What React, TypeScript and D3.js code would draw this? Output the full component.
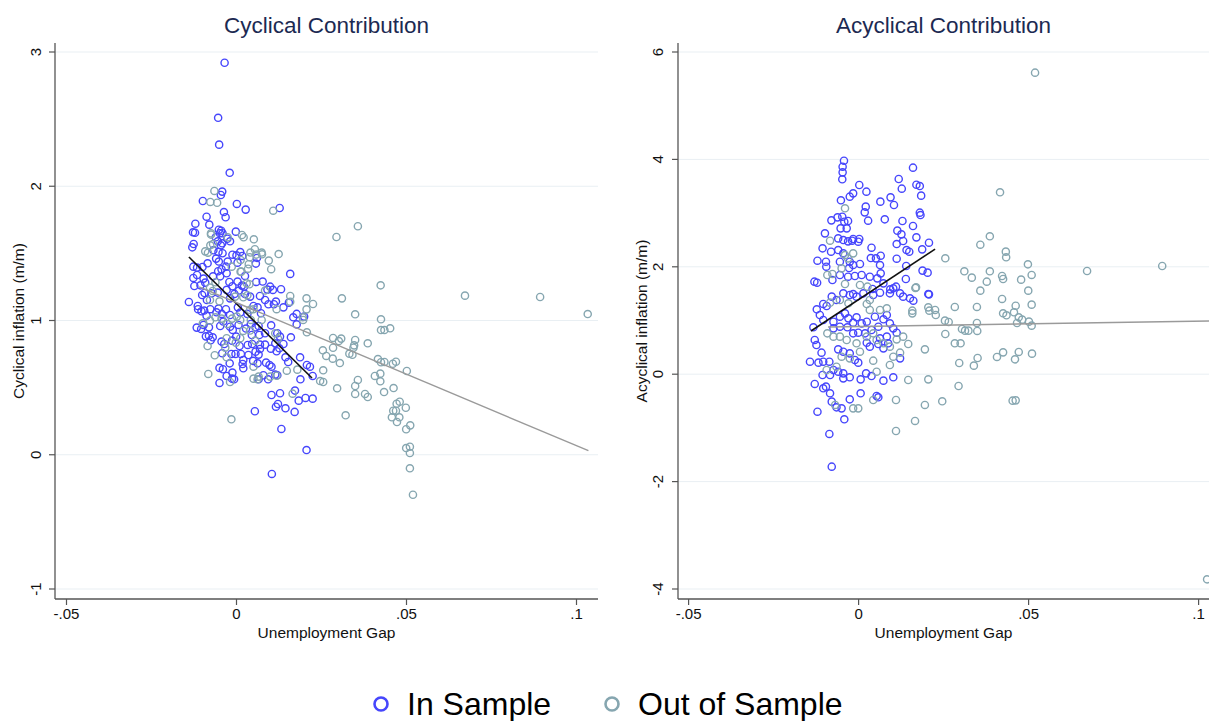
import React from "react";
import * as d3 from "d3";

type Pt = [number, number];

// Cyclical contribution – in-sample observations [unemployment gap, cyclical inflation]
const cycIn: Pt[] = [
[-0.0035,2.92],[-0.0054,2.51],[-0.0051,2.31],[-0.0020,2.10],[-0.0042,1.96],[-0.0046,1.935],[-0.0099,1.89],[0.0001,1.868],[0.0027,1.826],[0.0127,1.838],[-0.0037,1.808],[-0.0032,1.769],[-0.0088,1.773],[-0.0121,1.721],[-0.0080,1.714],[-0.0128,1.657],[-0.0122,1.654],[-0.0052,1.676],[-0.0045,1.669],[-0.0049,1.650],[-0.0041,1.650],[-0.0002,1.662],
[-0.0061,1.620],[-0.0055,1.590],[-0.0042,1.575],[-0.0046,1.560],[-0.0019,1.590],[-0.0027,1.609],[-0.0126,1.570],[-0.0130,1.545],[-0.0068,1.523],[-0.0053,1.511],[-0.0041,1.501],[-0.0012,1.490],[0.0000,1.485],[0.0011,1.510],[0.0017,1.481],
[-0.0127,1.401],[-0.0116,1.394],[-0.0100,1.399],[-0.0085,1.426],[-0.0060,1.461],[-0.0052,1.439],[-0.0026,1.439],[-0.0031,1.401],[-0.0044,1.382],[0.0003,1.431],[0.0057,1.424],[0.0060,1.466],[0.0158,1.347],
[-0.0127,1.317],[-0.0116,1.339],[-0.0097,1.312],[-0.0092,1.282],[-0.0124,1.257],[-0.0106,1.262],[-0.0069,1.329],[-0.0054,1.367],[-0.0048,1.329],[-0.0029,1.352],[-0.0021,1.287],[-0.0012,1.255],[0.0003,1.290],[0.0016,1.260],[0.0025,1.332],[0.0022,1.252],[0.0058,1.287],[0.0077,1.290],[0.0099,1.252],[0.0107,1.228],[0.0091,1.230],
[-0.0140,1.138],[-0.0114,1.108],[-0.0101,1.190],[-0.0094,1.205],[-0.0087,1.153],[-0.0073,1.203],[-0.0055,1.208],[-0.0029,1.228],[-0.0019,1.165],[-0.0006,1.198],[0.0007,1.223],[0.0025,1.198],[0.0040,1.178],[0.0069,1.183],[0.0084,1.153],[0.0116,1.141],[0.0138,1.098],[0.0154,1.133],[0.0131,1.233],
[-0.0113,1.084],[-0.0103,1.069],[-0.0095,1.074],[-0.0088,1.036],[-0.0077,1.084],[-0.0059,1.061],[-0.0053,1.089],[-0.0043,1.049],[-0.0031,1.084],[-0.0019,1.041],[0.0004,1.098],[0.0011,1.059],[0.0032,1.049],[0.0050,1.108],[0.0062,1.098],[0.0072,1.054],[0.0094,1.121],[0.0110,1.121],[0.0167,1.024],[0.0199,1.029],[0.0177,1.049],
[-0.0117,0.947],[-0.0104,0.937],[-0.0097,0.967],[-0.0081,0.949],[-0.0048,0.959],[-0.0039,0.992],[-0.0019,0.954],[-0.0011,0.930],[0.0006,0.967],[0.0028,0.940],[0.0042,0.974],[0.0056,0.949],[0.0065,0.959],[0.0084,0.905],[0.0102,0.964],[0.0120,0.905],[0.0128,0.880],[0.0160,0.875],[0.0067,0.892],[0.0045,0.892],
[-0.0090,0.882],[-0.0081,0.887],[-0.0076,0.853],[-0.0070,0.875],[-0.0044,0.843],[-0.0036,0.825],[-0.0013,0.850],[-0.0001,0.880],[0.0009,0.810],[0.0033,0.818],[0.0046,0.825],[0.0069,0.820],[0.0084,0.820],[0.0056,0.768],[0.0069,0.788],[0.0114,0.830],[0.0101,0.790],[0.0126,0.793],[0.0138,0.825],[0.0118,0.771],
[-0.0042,0.756],[-0.0015,0.751],[-0.0003,0.751],[0.0013,0.751],[0.0020,0.706],[0.0018,0.676],[0.0035,0.743],[0.0065,0.746],[0.0049,0.699],[0.0062,0.681],[0.0087,0.686],[0.0097,0.669],[0.0103,0.656],[0.0144,0.726],[0.0152,0.691],[0.0187,0.726],[0.0207,0.669],[0.0216,0.656],[-0.0050,0.647],[-0.0040,0.637],[-0.0020,0.681],[0.0020,0.644],
[-0.0029,0.587],[-0.0012,0.612],[-0.0007,0.562],[-0.0050,0.535],[-0.0013,0.567],[0.0079,0.592],[0.0093,0.562],[0.0114,0.597],[0.0120,0.592],[0.0065,0.562],[0.0188,0.562],[0.0224,0.587],
[0.0103,0.445],[0.0128,0.458],[0.0172,0.478],[0.0183,0.403],[0.0203,0.423],[0.0224,0.418],[0.0144,0.346],[0.0116,0.358],[0.0122,0.378],[0.0171,0.319],[0.0054,0.324],
[0.0177,0.971],[0.0206,0.035],[0.0132,0.192],[0.0104,-0.143]
];

// Cyclical contribution – out-of-sample observations
const cycOut: Pt[] = [
[-0.0065,1.965],[-0.0077,1.883],[-0.0057,1.877],[0.0108,1.818],[-0.0075,1.650],[0.0016,1.637],[0.0021,1.620],[0.0051,1.605],[-0.0026,1.620],
[-0.0075,1.640],[-0.0069,1.570],[-0.0077,1.560],[-0.0092,1.515],[-0.0084,1.505],[0.0039,1.471],[0.0041,1.506],[0.0058,1.491],[0.0074,1.506],[0.0054,1.531],
[-0.0014,1.401],[0.0012,1.451],[0.0012,1.364],[0.0036,1.419],[0.0034,1.386],[0.0075,1.493],[0.0095,1.446],[0.0102,1.382],
[-0.0078,1.245],[-0.0062,1.285],[0.0014,1.364],[0.0038,1.270],[0.0030,1.277],
[-0.0078,1.153],[-0.0070,1.220],[-0.0050,1.143],[-0.0004,1.178],[0.0020,1.173],[0.0032,1.188],[0.0050,1.084],[0.0084,1.223],[0.0118,1.084],
[-0.0062,1.024],[-0.0044,1.014],[-0.0013,1.014],[0.0001,1.029],[0.0042,1.004],[0.0074,1.004],[0.0040,1.079],
[-0.0099,0.979],[-0.0078,0.999],[-0.0027,0.974],[0.0011,1.004],[0.0020,0.922],[0.0040,0.925],[0.0114,0.905],
[-0.0029,0.868],[-0.0033,0.798],[-0.0085,0.810],[-0.0002,0.835],[0.0055,0.850],[0.0122,0.865],[0.0011,0.868],
[-0.0064,0.741],[-0.0029,0.726],[0.0050,0.656],
[-0.0083,0.602],[-0.0019,0.542],[0.0050,0.567],[0.0062,0.562],[0.0065,0.582],[0.0099,0.582],
[-0.0015,0.264],
[0.0357,1.702],[0.0294,1.622],[0.0124,1.495],[0.0424,1.262],[0.0672,1.185],[0.0893,1.175],[0.1033,1.048],[0.0310,1.165],[0.0206,1.165],[0.0225,1.123],[0.0158,1.183],[0.0158,1.140],[0.0206,1.083],[0.0349,1.046],[0.0425,1.009],[0.0425,0.929],[0.0435,0.929],[0.0452,0.942],[0.0196,1.004],[0.0195,1.024],[0.0207,0.912],
[0.0284,0.870],[0.0308,0.865],[0.0301,0.847],[0.0349,0.855],[0.0346,0.815],[0.0344,0.797],[0.0386,0.830],[0.0284,0.797],[0.0254,0.778],[0.0264,0.736],[0.0283,0.716],[0.0304,0.683],[0.0332,0.753],[0.0341,0.745],
[0.0416,0.713],[0.0425,0.689],[0.0435,0.691],[0.0460,0.678],[0.0469,0.693],[0.0501,0.624],[0.0255,0.629],[0.0246,0.549],[0.0255,0.542],[0.0407,0.587],[0.0423,0.604],[0.0423,0.547],[0.0357,0.557],[0.0349,0.512],[0.0349,0.453],[0.0296,0.495],[0.0434,0.467],[0.0462,0.497],[0.0378,0.453],[0.0386,0.430],[0.0321,0.294],
[0.0480,0.395],[0.0471,0.380],[0.0498,0.350],[0.0461,0.328],[0.0469,0.328],[0.0457,0.279],[0.0479,0.279],[0.0472,0.244],[0.0511,0.219],[0.0499,0.190],[0.0499,0.050],[0.0510,0.060],[0.0510,0.013],[0.0510,-0.101],[0.0519,-0.298],[0.0165,0.455],[0.0179,0.634],[0.0148,0.626],[0.0118,0.589]
];

// Acyclical contribution – in-sample observations
const acycIn: Pt[] = [
[-0.0043,3.976],[-0.0047,3.864],[-0.0047,3.759],[-0.0048,3.629],[0.0160,3.846],
[0.0118,3.635],[0.0127,3.455],[0.0170,3.529],[0.0180,3.504],[0.0184,3.325],
[0.0002,3.523],[0.0023,3.399],[-0.0016,3.368],[-0.0026,3.306],[-0.0052,3.238],
[0.0064,3.213],[0.0094,3.293],[0.0104,3.151],
[0.0021,3.120],[0.0018,3.014],[0.0028,2.859],[0.0077,2.884],[0.0180,3.008],[0.0182,2.964],
[-0.0080,2.865],[-0.0062,2.921],[-0.0048,2.933],[-0.0031,2.853],[-0.0042,2.840],
[0.0129,2.853],[0.0160,2.760],
[-0.0099,2.623],[-0.0053,2.716],[-0.0035,2.716],
[0.0114,2.673],[0.0126,2.604],[0.0170,2.548],
[-0.0060,2.529],[-0.0045,2.498],[-0.0031,2.474],[-0.0016,2.518],[0.0002,2.518],[-0.0001,2.467],[-0.0019,2.486],
[0.0131,2.480],[0.0112,2.424],[0.0207,2.449],
[-0.0106,2.344],[-0.0081,2.281],[-0.0060,2.312],[-0.0045,2.250],[0.0038,2.356],[0.0141,2.312],[0.0149,2.281],[0.0187,2.325],
[0.0036,2.163],[0.0051,2.157],[0.0065,2.207],[0.0112,2.151],
[-0.0121,2.114],[-0.0096,2.095],[-0.0095,2.002],[-0.0055,2.095],[-0.0026,2.095],[-0.0016,2.033],[-0.0028,1.977],[0.0004,2.052],
[0.0063,2.033],[0.0140,2.015],[0.0188,1.929],[0.0203,1.891],
[-0.0130,1.723],[-0.0122,1.704],[-0.0077,1.754],[-0.0055,1.847],[-0.0031,1.816],[-0.0011,1.829],[0.0009,1.847],[0.0033,1.816],
[0.0065,1.878],[0.0055,1.785],[0.0073,1.692],[0.0093,1.580],[0.0102,1.599],[0.0110,1.630],[0.0139,1.773],[0.0207,1.487],[0.0041,1.587],
[-0.0123,1.208],[-0.0104,1.307],[-0.0094,1.270],[-0.0079,1.444],[-0.0065,1.382],[-0.0045,1.506],[-0.0026,1.475],[-0.0016,1.493],[-0.0006,1.444],[0.0014,1.506],[0.0043,1.475],[0.0063,1.518],[0.0092,1.506],[0.0122,1.506],[0.0131,1.444],[0.0151,1.413],[0.0161,1.369],[0.0205,1.493],
[-0.0133,0.873],[-0.0114,1.102],[-0.0104,1.009],[-0.0074,0.978],[-0.0055,1.071],[-0.0040,1.133],[-0.0030,1.040],[-0.0016,0.960],[-0.0006,1.059],[0.0009,0.947],[0.0024,0.978],[0.0048,1.071],[0.0058,0.885],[0.0073,1.022],[0.0083,1.102],[0.0092,0.947],[0.0102,0.854],[0.0112,0.773],[0.0083,0.699],[0.0063,0.668],[0.0038,0.823],[0.0019,0.761],[-0.0001,0.773],[-0.0016,0.761],[-0.0033,0.873],[-0.0055,0.885],[-0.0074,0.854],
[-0.0129,0.637],[-0.0124,0.543],[-0.0109,0.401],[-0.0143,0.233],[-0.0118,0.215],[-0.0104,0.233],[-0.0086,0.233],[-0.0060,0.463],[-0.0045,0.419],[-0.0026,0.388],[-0.0011,0.264],[-0.0001,0.215],[0.0024,0.587],[0.0033,0.513],[0.0058,0.562],[0.0073,0.481],[0.0087,0.575],[0.0122,0.295],[0.0102,-0.058],[0.0073,-0.120],[0.0038,-0.034],[0.0022,0.016],[0.0006,-0.096],[-0.0026,-0.058],[-0.0045,-0.077],[-0.0060,0.047],[-0.0074,0.078],[-0.0084,-0.015],[-0.0106,-0.015],[-0.0129,-0.182],[-0.0104,-0.263],[-0.0096,-0.232],[-0.0084,-0.356],[-0.0045,0.016],
[-0.0026,-0.468],[0.0006,-0.356],[0.0053,-0.406],[0.0058,-0.430],[-0.0079,-0.511],[-0.0065,-0.617],[-0.0050,-0.636],[-0.0121,-0.698],[-0.0042,-0.840],[-0.0086,-1.113],[-0.0079,-1.722]
];

// Acyclical contribution – out-of-sample observations
const acycOut: Pt[] = [
[-0.0040,3.089],[-0.0084,2.486],[-0.0040,2.219],[-0.0016,2.250],[-0.0031,2.157],[-0.0050,1.971],[-0.0092,1.847],[-0.0077,1.866],[-0.0040,1.680],[0.0004,1.661],[0.0026,1.630],[0.0167,1.605],[0.0169,1.617],
[-0.0084,1.332],[-0.0055,1.382],[-0.0030,1.320],[0.0024,1.307],[0.0033,1.196],[0.0063,1.196],[0.0083,1.227],[0.0033,1.382],
[0.0158,1.183],[0.0158,1.133],[0.0205,1.245],[0.0208,1.183],[0.0225,1.196],[0.0227,1.102],
[-0.0092,0.761],[-0.0074,0.699],[-0.0055,0.699],[-0.0035,0.637],[-0.0006,0.575],[0.0024,0.699],[0.0043,0.761],[0.0053,0.637],[0.0073,0.575],[0.0112,0.649],[0.0131,0.699],[0.0146,0.562],[0.0092,0.513],[0.0122,0.401],[0.0102,0.326],[0.0092,0.171],[0.0043,0.252],[0.0004,0.419],[-0.0026,0.295],[-0.0050,0.326],[-0.0065,0.140],[-0.0094,0.078],[0.0195,0.463],[0.0053,0.047],
[-0.0069,-0.573],[-0.0016,-0.636],[-0.0001,-0.636],[0.0043,-0.480],[0.0110,-0.480],[0.0146,-0.108],[0.0205,-0.096],[0.0195,-0.573],[0.0166,-0.871],[0.0110,-1.058],
[0.0519,5.615],[0.0416,3.387],[0.0386,2.568],[0.0358,2.412],[0.0433,2.282],[0.0434,2.177],[0.0255,2.158],[0.0498,2.046],
[0.0311,1.916],[0.0386,1.916],[0.0333,1.798],[0.0377,1.723],[0.0422,1.829],[0.0425,1.773],[0.0478,1.761],[0.0509,1.848],[0.0672,1.922],[0.0893,2.015],
[0.0358,1.556],[0.0499,1.556],[0.0422,1.401],[0.0509,1.295],[0.0462,1.276],[0.0283,1.252],[0.0348,1.252],
[0.0425,1.134],[0.0435,1.097],[0.0457,1.153],[0.0471,1.059],[0.0481,1.016],
[0.0254,0.997],[0.0265,0.972],[0.0348,0.953],[0.0466,0.953],[0.0501,0.979],[0.0509,0.904],
[0.0304,0.842],[0.0313,0.811],[0.0323,0.811],[0.0349,0.805],[0.0255,0.749],[0.0283,0.575],[0.0300,0.575],
[0.0425,0.407],[0.0471,0.414],[0.0510,0.383],[0.0407,0.321],[0.0460,0.277],[0.0350,0.302],[0.0339,0.159],[0.0296,0.209],
[0.0294,-0.220],[0.0246,-0.505],[0.0453,-0.493],[0.0462,-0.487],
[0.1025,-3.82]
];

// Linear fits (endpoints)
const cycFitIn: Pt[] = [[-0.0140, 1.473], [0.0222, 0.572]];
const cycFitOut: Pt[] = [[-0.0110, 1.25], [0.1035, 0.03]];
const acycFitIn: Pt[] = [[-0.0140, 0.804], [0.0225, 2.33]];
const acycFitOut: Pt[] = [[-0.0090, 0.88], [0.1031, 0.99]];

const xTicks = [-0.05, 0, 0.05, 0.1];
const xTickLabels = ["-.05", "0", ".05", ".1"];
const cycYTicks = [-1, 0, 1, 2, 3];
const acycYTicks = [-4, -2, 0, 2, 4, 6];

const IN_COLOR = "#4646fc";
const OUT_COLOR = "#86a6b0";
const FONT = "'Liberation Sans', Arial, Helvetica, sans-serif";

type PanelProps = {
  title: string;
  yTitle: string;
  axisX: number;
  plotRight: number;
  xRange: [number, number];
  yDomain: [number, number];
  yTicks: number[];
  inPts: Pt[];
  outPts: Pt[];
  fitIn: Pt[];
  fitOut: Pt[];
  yTitleX: number;
  yLabelX: number;
};

function Panel(p: PanelProps) {
  const top = 43;
  const bottom = 599;
  const x = d3.scaleLinear().domain([-0.05, 0.1]).range(p.xRange);
  const y = d3.scaleLinear().domain(p.yDomain).range([589, 52]);
  const line = d3.line<Pt>().x((d) => x(d[0])).y((d) => y(d[1]));
  const cx = (p.axisX + p.plotRight) / 2;
  const cy = (top + bottom) / 2;
  return (
    <g fontFamily={FONT}>
      <text x={cx} y={33} textAnchor="middle" fontSize={22.5} fill="#1c2a52">
        {p.title}
      </text>
      {p.yTicks.map((t) => (
        <line key={"g" + t} x1={p.axisX} x2={p.plotRight} y1={y(t)} y2={y(t)} stroke="#e9eff3" strokeWidth={1} />
      ))}
      {p.inPts.map((d, i) => (
        <circle key={"i" + i} cx={x(d[0])} cy={y(d[1])} r={3.6} fill="none" stroke={IN_COLOR} strokeWidth={1.4} />
      ))}
      {p.outPts.map((d, i) => (
        <circle key={"o" + i} cx={x(d[0])} cy={y(d[1])} r={3.6} fill="none" stroke={OUT_COLOR} strokeWidth={1.4} />
      ))}
      <path d={line(p.fitIn) || ""} stroke="#111" strokeWidth={1.6} fill="none" />
      <path d={line(p.fitOut) || ""} stroke="#9a9a9a" strokeWidth={1.4} fill="none" />
      <line x1={p.axisX} x2={p.axisX} y1={top} y2={bottom} stroke="#555" strokeWidth={1.3} />
      <line x1={p.axisX} x2={p.plotRight} y1={bottom} y2={bottom} stroke="#555" strokeWidth={1.3} />
      {p.yTicks.map((t) => (
        <g key={"t" + t}>
          <line x1={p.axisX - 6} x2={p.axisX} y1={y(t)} y2={y(t)} stroke="#555" strokeWidth={1.2} />
          <text
            transform={`translate(${p.yLabelX},${y(t)}) rotate(-90)`}
            textAnchor="middle"
            fontSize={15}
            fill="#111"
          >
            {String(t)}
          </text>
        </g>
      ))}
      {xTicks.map((t, i) => (
        <g key={"x" + t}>
          <line x1={x(t)} x2={x(t)} y1={bottom} y2={bottom + 6} stroke="#555" strokeWidth={1.2} />
          <text x={x(t)} y={619} textAnchor="middle" fontSize={15} fill="#111">
            {xTickLabels[i]}
          </text>
        </g>
      ))}
      <text x={cx} y={638} textAnchor="middle" fontSize={15.5} fill="#111">
        Unemployment Gap
      </text>
      <text transform={`translate(${p.yTitleX},${cy}) rotate(-90)`} textAnchor="middle" fontSize={15.5} fill="#111">
        {p.yTitle}
      </text>
    </g>
  );
}

export default function App() {
  return (
    <svg
      width={1209}
      height={721}
      style={{ position: "absolute", left: 0, top: 0, background: "#fff" }}
    >
      <rect x={0} y={0} width={1209} height={721} fill="#fff" />
      <Panel
        title="Cyclical Contribution"
        yTitle="Cyclical inflation (m/m)"
        axisX={55}
        plotRight={598}
        xRange={[66.5, 576.5]}
        yDomain={[-1, 3]}
        yTicks={cycYTicks}
        inPts={cycIn}
        outPts={cycOut}
        fitIn={cycFitIn}
        fitOut={cycFitOut}
        yTitleX={24}
        yLabelX={41}
      />
      <Panel
        title="Acyclical Contribution"
        yTitle="Acyclical inflation (m/m)"
        axisX={678}
        plotRight={1209}
        xRange={[688.6, 1198.6]}
        yDomain={[-4, 6]}
        yTicks={acycYTicks}
        inPts={acycIn}
        outPts={acycOut}
        fitIn={acycFitIn}
        fitOut={acycFitOut}
        yTitleX={647}
        yLabelX={663}
      />
      <g fontFamily={FONT}>
        <circle cx={381} cy={704} r={6.5} fill="none" stroke={IN_COLOR} strokeWidth={2.6} />
        <text x={407} y={715} fontSize={32} fill="#000">In Sample</text>
        <circle cx={612} cy={704} r={6.5} fill="none" stroke={OUT_COLOR} strokeWidth={2.6} />
        <text x={638} y={715} fontSize={32} fill="#000">Out of Sample</text>
      </g>
    </svg>
  );
}
